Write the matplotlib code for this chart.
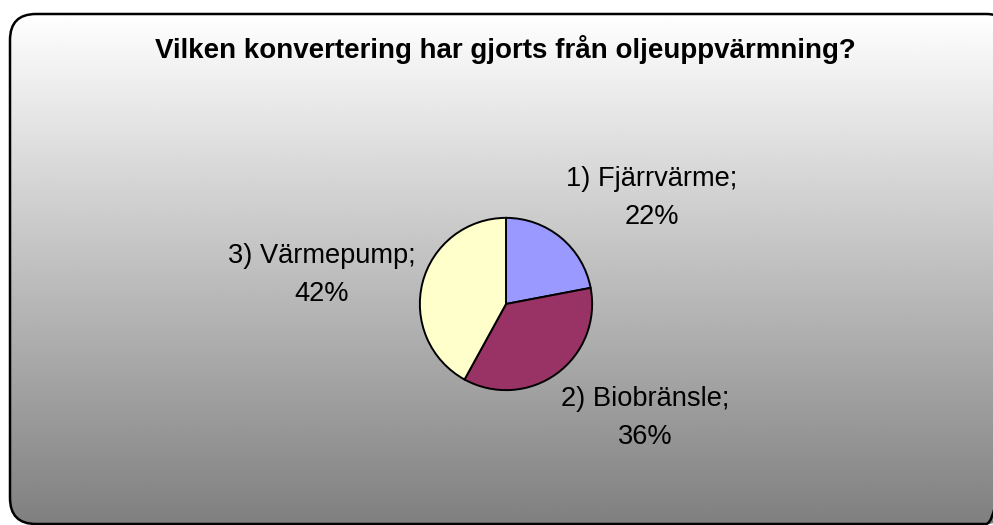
import matplotlib.pyplot as plt
import numpy as np
from matplotlib.patches import FancyBboxPatch

# data
names = ["1) Fjärrvärme", "2) Biobränsle", "3) Värmepump"]
shares = [22, 36, 42]
colors = ["#9999FF", "#993366", "#FFFFCC"]
title = "Vilken konvertering har gjorts från oljeuppvärmning?"

W, H = 993, 525
fig = plt.figure(figsize=(W / 100, H / 100), dpi=100)
fig.patch.set_facecolor("white")

# background axes in pixel coords (y down)
bg = fig.add_axes([0, 0, 1, 1])
bg.set_xlim(0, W)
bg.set_ylim(H, 0)
bg.axis("off")

frame = FancyBboxPatch((10, 14), 1002, 510, boxstyle="round,pad=0,rounding_size=26",
                       facecolor="none", edgecolor="black", lw=1.8, zorder=3)
bg.add_patch(frame)
grad = np.linspace(1.0, 0.5, 256).reshape(-1, 1)
im = bg.imshow(grad, cmap="gray", vmin=0, vmax=1, extent=[10, 1012, 524, 14],
               aspect="auto", zorder=1)
im.set_clip_path(frame)

bg.text(505, 50, title, ha="center", va="center", fontsize=20,
        fontweight="bold", family="Liberation Sans")

# pie
r = 87
cx, cy = 506, 304
pax = fig.add_axes([(cx - r) / W, (H - cy - r) / H, 2 * r / W, 2 * r / H])
pax.pie(shares, colors=colors, startangle=90, counterclock=False,
        wedgeprops=dict(edgecolor="black", linewidth=1.4))
pax.set_xlim(-1.01, 1.01)
pax.set_ylim(-1.01, 1.01)
pax.axis("off")

label_pos = [(652, 198), (645, 418), (322, 275)]
for n, s, (x, y) in zip(names, shares, label_pos):
    bg.text(x, y, f"{n};\n{s}%", ha="center", va="center", fontsize=19.6,
            family="Liberation Sans", linespacing=1.6, zorder=4)

fig.savefig("out.png", dpi=100)
